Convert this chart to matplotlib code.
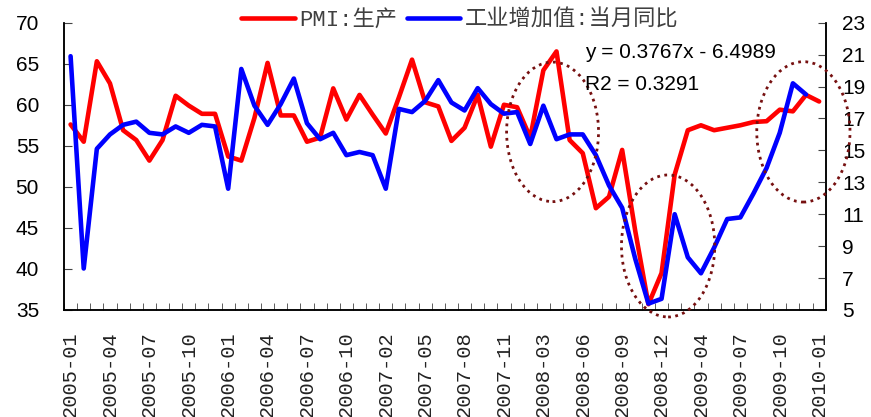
import numpy as np
import matplotlib
matplotlib.use('Agg')
import matplotlib.pyplot as plt
from matplotlib.patches import Ellipse

# Data
##############################################################################
months = ['2005-01', '2005-02', '2005-03', '2005-04', '2005-05', '2005-06',
          '2005-07', '2005-08', '2005-09', '2005-10', '2005-11', '2005-12',
          '2006-01', '2006-02', '2006-03', '2006-04', '2006-05', '2006-06',
          '2006-07', '2006-08', '2006-09', '2006-10', '2006-11', '2006-12',
          '2007-02', '2007-03', '2007-04', '2007-05', '2007-06', '2007-07',
          '2007-08', '2007-09', '2007-10', '2007-11', '2007-12',
          '2008-02', '2008-03', '2008-04', '2008-05', '2008-06', '2008-07',
          '2008-08', '2008-09', '2008-10', '2008-11', '2008-12',
          '2009-02', '2009-03', '2009-04', '2009-05', '2009-06', '2009-07',
          '2009-08', '2009-09', '2009-10', '2009-11', '2009-12', '2010-01']

# PMI: production (left axis)
pmi_prod = [57.6, 55.5, 65.3, 62.6, 56.9, 55.7, 53.2, 55.7, 61.1, 59.9, 58.9, 58.9,
            53.7, 53.2, 58.4, 65.1, 58.7, 58.7, 55.5, 56.0, 62.0, 58.2, 61.2, 58.8,
            56.5, 60.9, 65.5, 60.3, 59.8, 55.6, 57.2, 61.2, 54.9, 60.0, 59.7,
            56.0, 64.2, 66.5, 55.7, 54.1, 47.4, 48.8, 54.5, 44.6, 35.7, 39.5,
            51.5, 56.9, 57.5, 56.9, 57.2, 57.5, 57.9, 58.0, 59.4, 59.2, 61.2, 60.4]

# industrial value added, yoy % (right axis), no value for 2010-01
iva_yoy = [20.9, 7.6, 15.1, 16.0, 16.6, 16.8, 16.1, 16.0, 16.5, 16.1, 16.6, 16.5,
           12.6, 20.1, 17.8, 16.6, 17.9, 19.5, 16.7, 15.7, 16.1, 14.7, 14.9, 14.7,
           12.6, 17.6, 17.4, 18.1, 19.4, 18.0, 17.5, 18.9, 17.9, 17.3, 17.4,
           15.4, 17.8, 15.7, 16.0, 16.0, 14.7, 12.8, 11.4, 8.2, 5.4, 5.7,
           11.0, 8.3, 7.3, 8.9, 10.7, 10.8, 12.3, 13.9, 16.1, 19.2, 18.5]

tick_labels = months[::3]
fit_text = ['y = 0.3767x - 6.4989', 'R2 = 0.3291']

# Plot
##############################################################################
plt.rcParams['font.family'] = ['Liberation Sans', 'Noto Sans CJK SC']
mono_cjk = ['Liberation Mono', 'Noto Sans CJK SC']

fig = plt.figure(figsize=(8.71, 4.17), dpi=100)
ax = fig.add_axes([0.0735, 0.2566, 0.8745, 0.689])
ax2 = ax.twinx()

x = np.arange(len(months))
l1, = ax.plot(x, pmi_prod, color='#ff0000', lw=3.3, solid_joinstyle='round',
              solid_capstyle='round', label='PMI:生产')
l2, = ax2.plot(x[:len(iva_yoy)], iva_yoy, color='#0000ff', lw=3.3,
               solid_joinstyle='round', solid_capstyle='round',
               label='工业增加值:当月同比')

ax.set_xlim(-0.5, len(months) - 0.5)
ax.set_ylim(35, 70)
ax2.set_ylim(5, 23)
ax.set_yticks(range(35, 71, 5))
ax2.set_yticks(range(5, 24, 2))

ax.set_xticks(x[::3])
ax.set_xticklabels(tick_labels, rotation=90, family=mono_cjk, fontsize=14.7,
                   color='#222222')
ax.set_xticks(np.arange(-0.5, len(months), 1), minor=True)
ax.tick_params(axis='x', which='major', length=0, pad=15)
ax.tick_params(axis='x', which='minor', direction='in', length=5, color='#444444')
ax.tick_params(axis='y', direction='in', length=5.5, labelsize=15, pad=18,
               color='#444444')
ax2.tick_params(axis='y', direction='in', length=6, labelsize=15, pad=12,
                color='#444444')

for a in (ax, ax2):
    a.spines['top'].set_visible(False)
    for s in ('left', 'right', 'bottom'):
        a.spines[s].set_linewidth(1.1)

# dotted circles marking the turning points
for cx, cy, w, h in [(36.7, 56.7, 7.0, 17.0), (45.5, 42.8, 7.1, 17.3),
                     (55.8, 56.7, 7.1, 17.1)]:
    e = Ellipse((cx, cy), w, h, transform=ax.transData, fill=False,
                edgecolor='#761010', lw=2, linestyle=(0, (1, 1.6)),
                clip_on=False, zorder=5)
    ax2.add_patch(e)

fig.text(585 / 871, 1 - 53 / 417, fit_text[0], fontsize=15, va='center', ha='left')
fig.text(585 / 871, 1 - 84 / 417, fit_text[1], fontsize=15, va='center', ha='left')

fig.legend([l1, l2], [l1.get_label(), l2.get_label()], loc='center',
           bbox_to_anchor=(0.528, 0.952), ncol=2, frameon=False,
           prop={'family': mono_cjk, 'size': 16}, handlelength=2.4,
           handletextpad=0.2, columnspacing=0.45, labelcolor='#404040',
           borderpad=0.1)

fig.savefig('out.png', dpi=100)
